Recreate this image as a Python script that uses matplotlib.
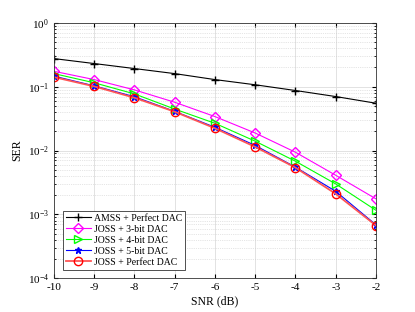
import numpy as np
import matplotlib.pyplot as plt
from matplotlib.ticker import LogLocator, NullFormatter

plt.rcParams['font.family'] = ['Liberation Serif', 'DejaVu Serif']
plt.rcParams['mathtext.fontset'] = 'stix'
plt.rcParams['axes.unicode_minus'] = False

snr = [-10, -9, -8, -7, -6, -5, -4, -3, -2]
amss_perfect = [0.275, 0.23, 0.192, 0.16, 0.129, 0.107, 0.087, 0.070, 0.055]
joss_3bit = [0.174, 0.129, 0.089, 0.057, 0.034, 0.0188, 0.0094, 0.0041, 0.00175]
joss_4bit = [0.16, 0.115, 0.077, 0.0446, 0.0267, 0.014, 0.0068, 0.0030, 0.00116]
joss_5bit = [0.146, 0.103, 0.0695, 0.041, 0.0231, 0.012, 0.0055, 0.0023, 0.000686]
joss_perfect = [0.141, 0.101, 0.067, 0.0405, 0.0223, 0.0114, 0.0054, 0.0021, 0.00067]

fig = plt.figure(figsize=(4.15, 3.12), dpi=100)
ax = fig.add_axes([0.130, 0.108, 0.776, 0.819])

ax.semilogy(snr, amss_perfect, color='black', marker='+', ms=6, lw=0.8,
            label='AMSS + Perfect DAC')
ax.semilogy(snr, joss_3bit, color='#ff00ff', marker='D', ms=5, lw=0.8,
            mfc='none', label='JOSS + 3-bit DAC')
ax.semilogy(snr, joss_4bit, color='#00ff00', marker='>', ms=6, lw=0.8,
            mfc='none', label='JOSS + 4-bit DAC')
ax.semilogy(snr, joss_5bit, color='blue', marker='*', ms=5, lw=0.8,
            label='JOSS + 5-bit DAC')
ax.semilogy(snr, joss_perfect, color='#ff5555', marker='o', ms=6, lw=1.3,
            mfc='none', mec='red', label='JOSS + Perfect DAC')

ax.set_xlim(-10, -2)
ax.set_ylim(1e-4, 1)
ax.set_xticks(snr)
ax.yaxis.set_major_locator(LogLocator(base=10, numticks=10))
ax.yaxis.set_minor_locator(LogLocator(base=10, subs=np.arange(2, 10), numticks=10))
ax.yaxis.set_minor_formatter(NullFormatter())

ax.grid(True, which='major', color='#dddddd', lw=0.6)
ax.grid(True, which='minor', color='#cccccc', lw=0.5, ls=':')
ax.tick_params(which='both', direction='in', top=True, right=True, labelsize=8)
ax.tick_params(which='major', length=3)
ax.tick_params(which='minor', length=1.5)
for s in ax.spines.values():
    s.set_color('#333333')
    s.set_linewidth(0.6)

ax.set_xlabel('SNR (dB)', fontsize=8.5, labelpad=2)
ax.set_ylabel('SER', fontsize=8.5, labelpad=3)

leg = ax.legend(loc='lower left', fontsize=7, frameon=True, fancybox=False,
                edgecolor='#333333', framealpha=1, handlelength=2.6,
                labelspacing=0.2, borderpad=0.3, handletextpad=0.3,
                borderaxespad=0.9)
leg.get_frame().set_linewidth(0.6)

fig.savefig('out.png', dpi=100)
